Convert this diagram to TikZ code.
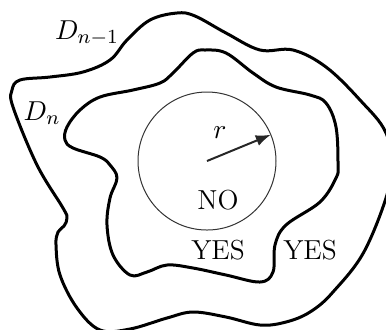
\documentclass[tikz,border=0pt]{standalone}
\usetikzlibrary{arrows.meta,calc}
\tikzset{
  region/.style={line width=1.2pt, line join=round},
  disk/.style={line width=0.4pt, draw=black!80},
  radius arrow/.style={line width=0.8pt, draw=black!85, -{Latex[length=6pt,width=4.5pt]}},
  lbl/.style={inner sep=0pt, font=\fontsize{11}{13}\selectfont}
}
\begin{document}
\begin{tikzpicture}[x=0.4pt,y=-0.4pt]
\useasboundingbox (0,0) rectangle (386,329);
\clip (0,0) rectangle (386,329);
% outer region D_{n-1}
\draw[region] plot[smooth cycle, tension=0.6] coordinates {
 (177,13) (195,16) (226,33) (260,50) (293,50) (326,67) (360,100) (386,133)
 (392,175) (366,248) (333,292) (310,312) (286,322) (260,325) (226,317)
 (193,312) (167,318) (130,329) (100,330) (77,308) (60,275) (56,245)
 (58,232) (64,226) (67,218) (63,208) (37,165) (13,107) (12,90) (20,80)
 (50,77) (83,72) (110,60) (127,40) (150,20)};
% inner region D_n
\draw[region] plot[smooth cycle, tension=0.6] coordinates {
 (193,53) (205,50) (226,53) (253,73) (276,87) (310,95) (326,103) (336,127)
 (338,165) (336,178) (320,202) (286,225) (275,245) (273,272) (260,282)
 (226,275) (193,268) (167,265) (147,272) (130,275) (113,255) (107,225)
 (110,198) (117,178) (110,165) (100,157) (73,148) (65,140) (67,127)
 (80,110) (100,97) (133,90) (160,83) (173,73)};
% disk
\coordinate (c) at (207,161);
\draw[disk] (c) circle[radius=69];
\coordinate (rim) at ($(c)+(-22.4:69)$);
\draw[radius arrow] (c) -- (rim);
\node[lbl] (r) at (220,133) {$r$};
\node[lbl] (no) at (218,200) {NO};
\node[lbl] (yes1) at (218,250) {YES};
\node[lbl] (yes2) at (310,250) {YES};
\node[lbl] (dn1) at (87,33) {$D_{n-1}$};
\node[lbl] (dn) at (42,113) {$D_n$};
\end{tikzpicture}
\end{document}
